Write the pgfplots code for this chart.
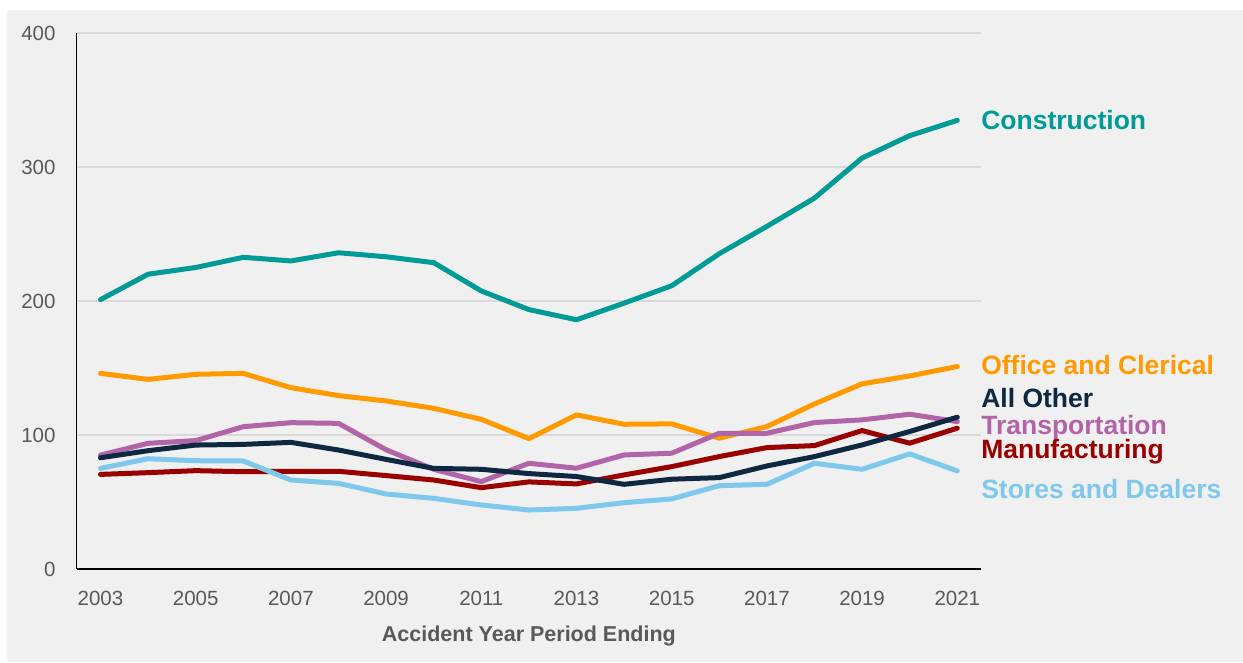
\documentclass[border=0pt]{standalone}
\usepackage{pgfplots}
\pgfplotsset{compat=1.18}
\usepackage{fontspec}
\setmainfont{Liberation Sans}
\definecolor{bgc}{HTML}{F0F0F0}
\definecolor{gridc}{HTML}{D9D9D9}
\definecolor{tickc}{HTML}{595959}
\definecolor{cons}{HTML}{009A97}
\definecolor{office}{HTML}{FF9A00}
\definecolor{allother}{HTML}{0E2841}
\definecolor{transp}{HTML}{B264A8}
\definecolor{manuf}{HTML}{990000}
\definecolor{stores}{HTML}{7EC8EC}
\begin{document}
\begin{tikzpicture}[x=1pt,y=1pt]
\fill[white] (0,0) rectangle (1243,662);
\fill[bgc] (7,0) rectangle (1243,652);
\begin{axis}[
  at={(76.7pt,93pt)}, anchor=south west,
  scale only axis, width=904.4pt, height=536pt,
  xmin=2002.5, xmax=2021.5, ymin=0, ymax=400,
  axis lines=left, axis line style={-, black, line width=1.3pt},
  major tick length=0pt,
  xtick={2003,2005,...,2021}, ytick={0,100,200,300,400},
  ymajorgrids, grid style={gridc, line width=1.2pt},
  /pgf/number format/1000 sep={},
  /pgf/number format/assume math mode=true,
  ticklabel style={font=\fontsize{20.5}{24}\selectfont, text=tickc},
  yticklabel style={anchor=east, inner sep=0pt, xshift=-21pt},
  xticklabel style={anchor=north, inner sep=0pt, yshift=-22pt},
  xlabel={\textbf{Accident Year Period Ending}},
  xlabel style={at={(axis description cs:0.5,0)}, anchor=north, inner sep=0pt, yshift=-57pt, font=\fontsize{21.5}{24}\selectfont, text=tickc},
  clip=false,
  every axis plot/.append style={line width=5pt, line join=round, line cap=round},
]
\addplot[cons] coordinates {(2003,201) (2004,220) (2005,225) (2006,232.6) (2007,229.9) (2008,236) (2009,233) (2010,228.6) (2011,207.5) (2012,193.6) (2013,186) (2014,198.4) (2015,211.4) (2016,235.3) (2017,255.7) (2018,276.8) (2019,306.7) (2020,323.4) (2021,334.8)};
\addplot[office] coordinates {(2003,146) (2004,141.5) (2005,145.3) (2006,146) (2007,135.3) (2008,129.4) (2009,125.4) (2010,119.9) (2011,111.7) (2012,97.3) (2013,115) (2014,108) (2015,108.3) (2016,97.6) (2017,106.3) (2018,123.2) (2019,138.2) (2020,144.1) (2021,151.1)};
\addplot[transp] coordinates {(2003,85) (2004,93.8) (2005,95.8) (2006,106.2) (2007,109.2) (2008,108.7) (2009,89) (2010,74.4) (2011,65.2) (2012,78.9) (2013,75.2) (2014,85.1) (2015,86.4) (2016,101.3) (2017,101.3) (2018,109.3) (2019,111.3) (2020,115.5) (2021,110)};
\addplot[manuf] coordinates {(2003,70.6) (2004,71.9) (2005,73.4) (2006,72.6) (2007,72.9) (2008,72.9) (2009,69.7) (2010,66.4) (2011,60.7) (2012,65) (2013,63.5) (2014,70.2) (2015,76.4) (2016,83.9) (2017,90.6) (2018,92.1) (2019,103.3) (2020,93.9) (2021,105.1)};
\addplot[stores] coordinates {(2003,75.1) (2004,82.3) (2005,80.8) (2006,80.6) (2007,66.4) (2008,63.9) (2009,56) (2010,52.7) (2011,47.8) (2012,44) (2013,45.3) (2014,49.5) (2015,52.3) (2016,62.2) (2017,63.2) (2018,78.9) (2019,74.4) (2020,85.9) (2021,73.2)};
\addplot[allother] coordinates {(2003,83) (2004,88.3) (2005,92.5) (2006,93) (2007,94.5) (2008,88.8) (2009,81.8) (2010,75.1) (2011,74.4) (2012,71.2) (2013,69) (2014,63.2) (2015,67) (2016,68.2) (2017,76.9) (2018,83.9) (2019,92.6) (2020,102.6) (2021,113.3)};
\begin{scope}[every node/.style={anchor=base west, inner sep=0pt, font=\fontsize{26.5}{30}\selectfont\bfseries}]
\node[text=cons] at (axis cs:2021.5,328.1) {Construction};
\node[text=office] at (axis cs:2021.5,144.8) {Office and Clerical};
\node[text=allother] at (axis cs:2021.5,120.6) {All Other};
\node[text=transp] at (axis cs:2021.5,100.6) {Transportation};
\node[text=manuf] at (axis cs:2021.5,82.2) {Manufacturing};
\node[text=stores] at (axis cs:2021.5,52.8) {Stores and Dealers};
\end{scope}
\end{axis}
\end{tikzpicture}
\end{document}
